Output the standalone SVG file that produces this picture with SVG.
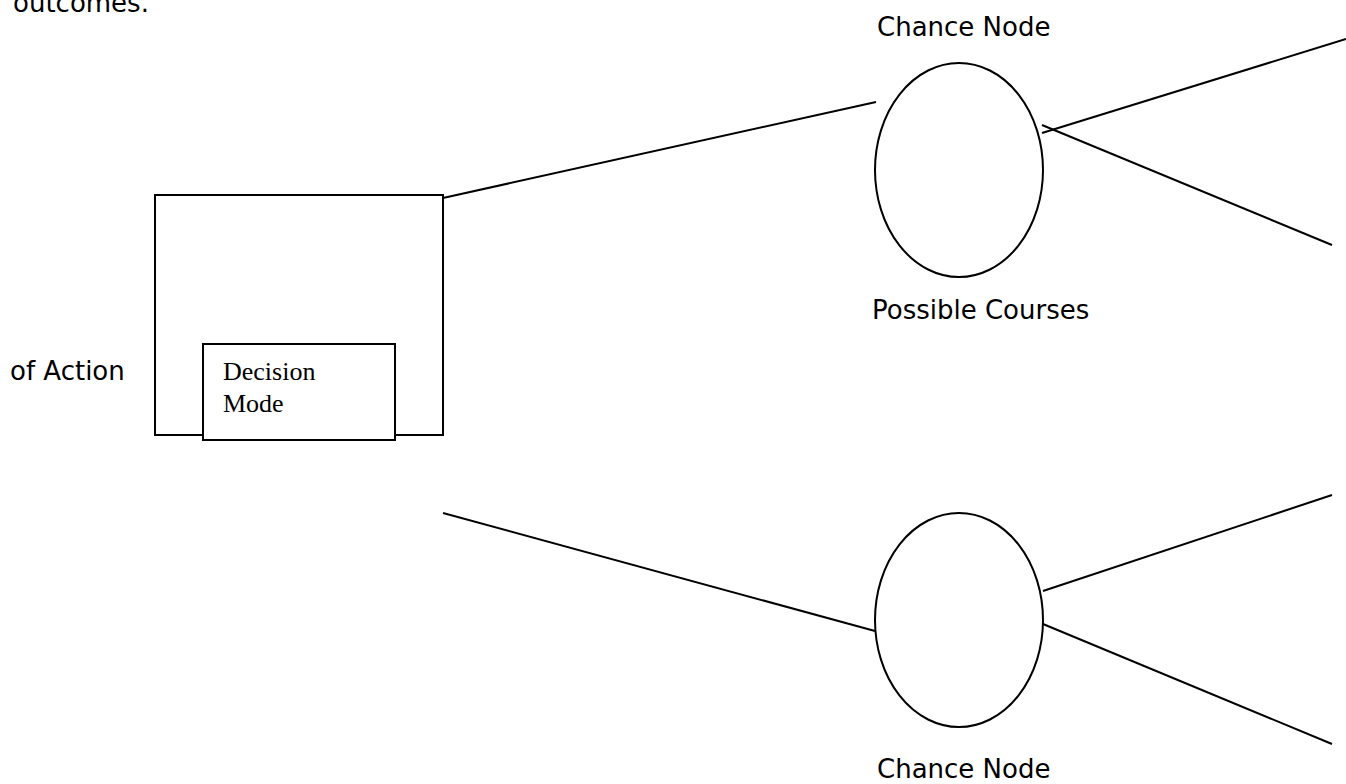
<svg xmlns="http://www.w3.org/2000/svg" width="1346" height="784" viewBox="0 0 1346 784">
<style>
.s{fill:none;stroke:#000;stroke-width:2}
.box{fill:#fff;stroke:#000;stroke-width:2}
.t{font-family:"DejaVu Sans",Verdana,sans-serif;font-size:26px;fill:#000}
.r{font-family:"Liberation Serif","Times New Roman",serif;font-size:26px;fill:#000}
</style>
<rect width="1346" height="784" fill="#fff"/>
<text class="t" x="13" y="12">outcomes.</text>
<text class="t" x="10" y="380">of Action</text>
<g id="connectors">
<line class="s" x1="443" y1="198" x2="876" y2="102"/>
<line class="s" x1="443" y1="513" x2="875" y2="631"/>
<line class="s" x1="1042" y1="133" x2="1346" y2="39"/>
<line class="s" x1="1042" y1="125" x2="1332" y2="245"/>
<line class="s" x1="1043" y1="591" x2="1332" y2="495"/>
<line class="s" x1="1043" y1="624" x2="1332" y2="744"/>
</g>
<g id="decision">
<rect class="box" x="155" y="195" width="288" height="240"/>
<rect class="box" x="203" y="344" width="192" height="96"/>
<text class="r" x="223" y="380">Decision</text>
<text class="r" x="223" y="412">Mode</text>
</g>
<g id="chance-top">
<ellipse class="s" cx="959" cy="170" rx="84" ry="107"/>
<text class="t" x="877" y="36">Chance Node</text>
<text class="t" x="872" y="319">Possible Courses</text>
</g>
<g id="chance-bottom">
<ellipse class="s" cx="959" cy="620" rx="84" ry="107"/>
<text class="t" x="877" y="778">Chance Node</text>
</g>
</svg>
